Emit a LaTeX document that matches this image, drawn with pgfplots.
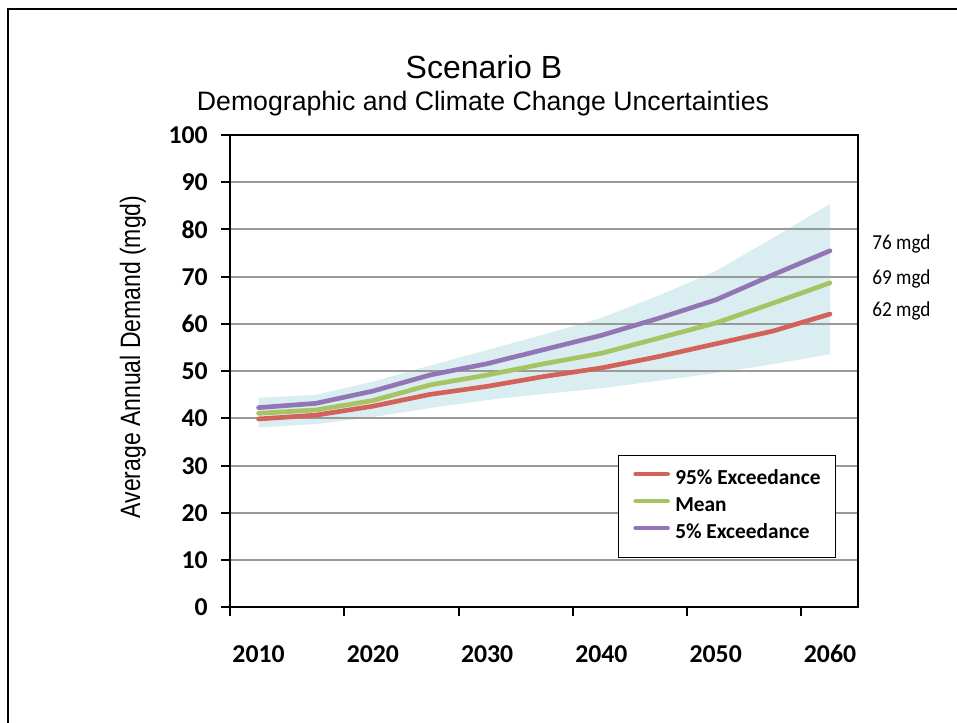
\documentclass[border=0pt]{standalone}
\usepackage{pgfplots}
\usepackage{pgfplotstable}
\pgfplotsset{compat=1.18}
\usepackage{fontspec}
\setmainfont{Liberation Sans}
\newfontfamily\calibri{Carlito}
\newfontfamily\calibrin[FakeStretch=0.9]{Carlito}
\newfontfamily\narrowfont[FakeStretch=0.82]{Liberation Sans}
\definecolor{cred}{HTML}{D3625A}
\definecolor{cgreen}{HTML}{A6C463}
\definecolor{cpurple}{HTML}{9275B5}
\definecolor{bandc}{HTML}{DAEEF1}
\definecolor{gridgray}{HTML}{9A9A9A}

\pgfplotstableread{
year red green purple
2010 39.9 41.1 42.3
2015 40.7 41.8 43.2
2020 42.6 43.8 45.8
2025 45.1 47.1 49.2
2030 46.8 49.2 51.6
2035 48.9 51.6 54.6
2040 50.7 53.8 57.6
2045 53.1 57.0 61.2
2050 55.8 60.2 65.1
2055 58.5 64.4 70.4
2060 62.1 68.7 75.5
}\demand

\begin{document}
\begin{tikzpicture}[x=0.75pt,y=0.75pt]
\begin{axis}[
  at={(172.5pt,86.625pt)}, anchor=south west,
  scale only axis, width=471pt, height=354.375pt,
  xmin=2007.5, xmax=2062.45, ymin=0, ymax=100,
  set layers, clip=false,
  axis line style={line width=1.5pt, black},
  tick style={line width=1.5pt, black},
  tick align=outside,
  major tick length=6.5pt,
  xtick pos=left, ytick pos=left,
  xtick={2007.5,2017.5,2027.5,2037.5,2047.5,2057.5},
  xticklabels={},
  extra x ticks={2010,2020,2030,2040,2050,2060},
  extra x tick labels={2010,2020,2030,2040,2050,2060},
  extra x tick style={major tick length=0pt, grid=none,
    xticklabel style={anchor=north, yshift=-25.5pt, text height=12.5pt, text depth=0pt, inner sep=3pt}},
  ytick={0,10,...,100},
  yticklabel style={xshift=-6.7pt},
  ymajorgrids, grid style={line width=1.5pt, gridgray},
  ticklabel style={font=\calibri\bfseries\fontsize{19.3}{19.3}\selectfont},
  /pgf/number format/assume math mode=true,
  legend cell align=left,
  legend style={at={(rel axis cs:0.618,0.3228)}, anchor=north west, draw=black, line width=0.75pt,
    inner xsep=11pt, inner ysep=11pt, row sep=6.25pt,
    font=\calibri\bfseries\fontsize{16}{16}\selectfont,
    nodes={inner sep=0pt, text height=11pt, text depth=3pt}},
  legend image code/.code={\draw[#1] (0pt,4pt) -- (24pt,4pt); \path (28pt,4pt);},
]
\addplot[fill=bandc, draw=none, forget plot, on layer=axis background] coordinates {
(2010,44.4) (2015,45.0) (2020,47.8) (2025,51.2) (2030,54.5) (2035,57.8) (2040,61.3) (2045,66.0) (2050,71.2) (2055,78.2) (2060,85.4)
(2060,53.6) (2055,51.5) (2050,49.6) (2045,48.0) (2040,46.4) (2035,45.2) (2030,43.9) (2025,42.2) (2020,40.3) (2015,38.8) (2010,38.1)
} -- cycle;
\addplot[cred, line width=3.5pt, line join=round, line cap=round] table[x=year, y=red] {\demand};
\addlegendentry{95\% Exceedance}
\addplot[cgreen, line width=3.5pt, line join=round, line cap=round] table[x=year, y=green] {\demand};
\addlegendentry{Mean}
\addplot[cpurple, line width=3.5pt, line join=round, line cap=round] table[x=year, y=purple] {\demand};
\addlegendentry{5\% Exceedance}
\node[anchor=west, font=\calibrin\fontsize{16}{16}\selectfont] at (axis cs:2063.3,77.0) {76 mgd};
\node[anchor=west, font=\calibrin\fontsize{16}{16}\selectfont] at (axis cs:2063.3,69.5) {69 mgd};
\node[anchor=west, font=\calibrin\fontsize{16}{16}\selectfont] at (axis cs:2063.3,62.7) {62 mgd};
\end{axis}
\pgfresetboundingbox
\useasboundingbox (0,0) rectangle (957,723);
\draw[line width=1.5pt] (8,714) rectangle (1200,-200);
\node[anchor=base, font=\fontsize{24}{24}\selectfont] at (484,644.5) {Scenario B};
\node[anchor=base, font=\fontsize{20}{20}\selectfont] at (483,612) {Demographic and Climate Change Uncertainties};
\node[rotate=90, font=\narrowfont\fontsize{21}{21}\selectfont] at (133,366) {Average Annual Demand (mgd)};
\end{tikzpicture}
\end{document}
